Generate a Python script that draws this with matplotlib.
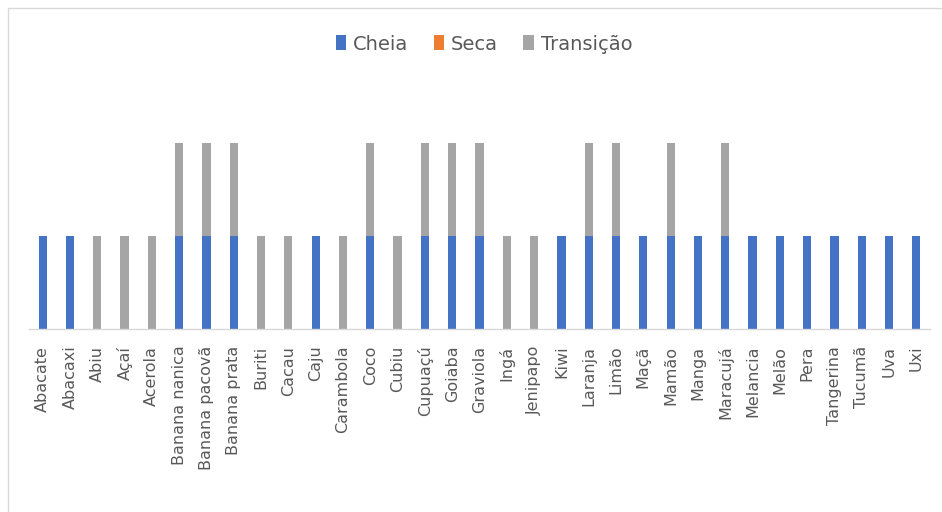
import matplotlib.pyplot as plt
import matplotlib.patches as mpatches
import numpy as np

# Frutas e safra por estação
frutas = ['Abacate', 'Abacaxi', 'Abiu', 'Açaí', 'Acerola', 'Banana nanica',
          'Banana pacovã', 'Banana prata', 'Buriti', 'Cacau', 'Caju', 'Carambola',
          'Coco', 'Cubiu', 'Cupuaçú', 'Goiaba', 'Graviola', 'Ingá', 'Jenipapo',
          'Kiwi', 'Laranja', 'Limão', 'Maçã', 'Mamão', 'Manga', 'Maracujá',
          'Melancia', 'Melão', 'Pera', 'Tangerina', 'Tucumã', 'Uva', 'Uxi']
cheia = [1, 1, 0, 0, 0, 1, 1, 1, 0, 0, 1, 0, 1, 0, 1, 1, 1, 0, 0,
         1, 1, 1, 1, 1, 1, 1, 1, 1, 1, 1, 1, 1, 1]
seca = [0] * 33
transicao = [0, 0, 1, 1, 1, 1, 1, 1, 1, 1, 0, 1, 1, 1, 1, 1, 1, 1, 1,
             0, 1, 1, 0, 1, 0, 1, 0, 0, 0, 0, 0, 0, 0]

azul = '#4472C4'
laranja = '#ED7D31'
cinza = '#A5A5A5'
texto = '#595959'

fig = plt.figure(figsize=(9.42, 5.12), dpi=100)
ax = fig.add_axes([29 / 942, 183 / 512, 901 / 942, 232.5 / 512])

x = np.arange(len(frutas))
cheia = np.array(cheia)
seca = np.array(seca)
transicao = np.array(transicao)
w = 0.3
ax.bar(x, cheia, w, color=azul, label='Cheia')
ax.bar(x, seca, w, bottom=cheia, color=laranja, label='Seca')
ax.bar(x, transicao, w, bottom=cheia + seca, color=cinza, label='Transição')

ax.set_xlim(-0.5, len(frutas) - 0.5)
ax.set_ylim(0, 2.5)
ax.set_yticks([])
ax.set_xticks(x)
ax.set_xticklabels(frutas, rotation=90, fontsize=11.5, color=texto,
                   family='DejaVu Sans', va='top')
ax.tick_params(axis='x', length=0, pad=12)
for s in ['top', 'right', 'left']:
    ax.spines[s].set_visible(False)
ax.spines['bottom'].set_color('#D9D9D9')
ax.spines['bottom'].set_linewidth(1)

# legenda no topo
leg = fig.legend(loc='center', bbox_to_anchor=(484 / 942, 1 - 44 / 512), ncol=3,
                 frameon=False, fontsize=14, handlelength=0.55, handleheight=0.8,
                 handletextpad=0.35, columnspacing=1.3)
for t in leg.get_texts():
    t.set_color(texto)

# moldura do gráfico
fig.patches.append(mpatches.Rectangle((8 / 942, -0.01), 940 / 942, 1 - 8 / 512 + 0.01,
                                      transform=fig.transFigure, fill=False,
                                      edgecolor='#D9D9D9', linewidth=1))

fig.savefig('out.png', dpi=100)
plt.close(fig)
